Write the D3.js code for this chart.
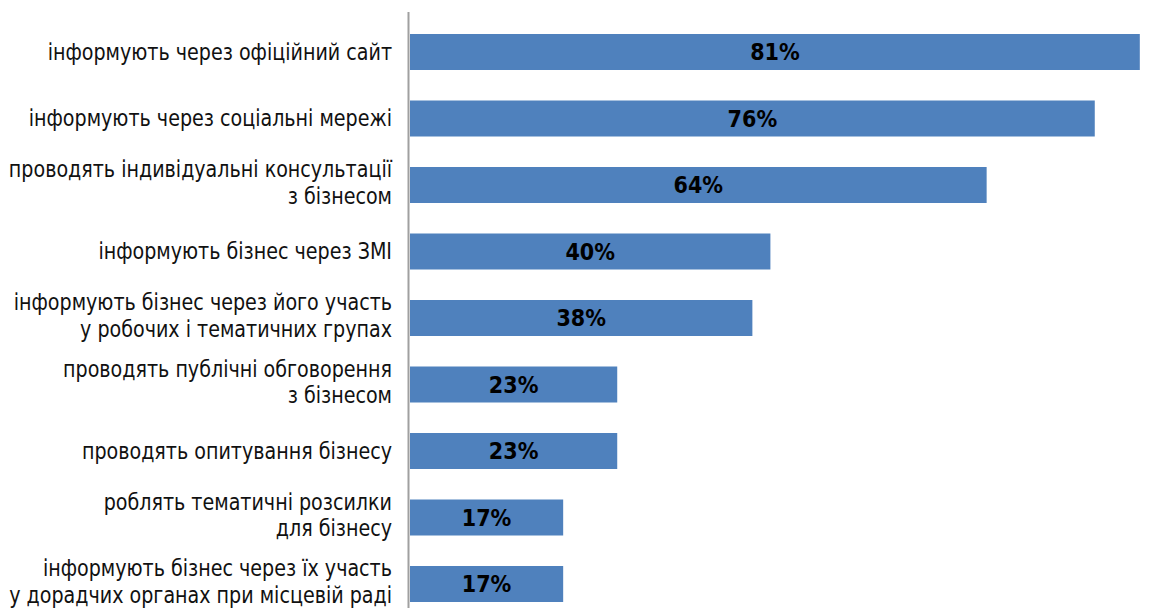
<!DOCTYPE html>
<html>
<head>
<meta charset="utf-8">
<script src="https://cdn.jsdelivr.net/npm/d3@7"></script>
<style>
  html, body { margin: 0; padding: 0; background: #fff; }
  svg { display: block; }
</style>
</head>
<body>
<svg id="chart" width="1176" height="608"></svg>
<script>
const categories = [
  ["інформують через офіційний сайт"],
  ["інформують через соціальні мережі"],
  ["проводять індивідуальні консультації", "з бізнесом"],
  ["інформують бізнес через ЗМІ"],
  ["інформують бізнес через його участь", "у робочих і тематичних групах"],
  ["проводять публічні обговорення", "з бізнесом"],
  ["проводять опитування бізнесу"],
  ["роблять тематичні розсилки", "для бізнесу"],
  ["інформують бізнес через їх участь", "у дорадчих органах при місцевій раді"]
];
const values = [81, 76, 64, 40, 38, 23, 23, 17, 17];
const valueLabels = ["81%", "76%", "64%", "40%", "38%", "23%", "23%", "17%", "17%"];

const svg = d3.select("#chart");
const labelFont = "'DejaVu Sans Condensed', 'Liberation Sans Narrow', 'Open Sans', sans-serif";

const keys = categories.map((c, i) => i);
const y = d3.scaleBand().domain(keys).range([18.75, 617.25]).paddingInner(0.4586).paddingOuter(0.2293);
const x = d3.scaleLinear().domain([0, 100]).range([410, 1311]);

svg.selectAll("rect.bar").data(values).join("rect")
  .attr("class", "bar")
  .attr("x", x(0))
  .attr("y", (d, i) => y(i))
  .attr("width", d => x(d) - x(0))
  .attr("height", y.bandwidth())
  .attr("fill", "#4F81BD");

// axis line
svg.append("line")
  .attr("x1", 408.5).attr("x2", 408.5)
  .attr("y1", 12).attr("y2", 620)
  .attr("stroke", "#A0A0A0").attr("stroke-width", 2);

// category labels
const lineH = 26.5;
const lab = svg.selectAll("text.cat").data(categories).join("text")
  .attr("class", "cat")
  .attr("text-anchor", "end")
  .attr("font-family", labelFont)
  .attr("font-size", 22.5)
  .attr("fill", "#111")
  .attr("transform", "translate(392,0) scale(0.944,1)");
lab.each(function(lines, i) {
  const cy = y(i) + y.bandwidth() / 2 - (lines.length > 1 ? 2.2 : 0);
  const startY = cy - (lines.length - 1) * lineH / 2;
  d3.select(this).selectAll("tspan").data(lines).join("tspan")
    .attr("x", 0)
    .attr("y", (d, j) => startY + j * lineH)
    .attr("dy", "0.34em")
    .text(d => d);
});

// value labels
svg.selectAll("text.val").data(values).join("text")
  .attr("class", "val")
  .attr("text-anchor", "middle")
  .attr("font-family", labelFont)
  .attr("font-weight", "bold")
  .attr("font-size", 23)
  .attr("fill", "#000")
  .attr("x", d => (x(0) + x(d)) / 2)
  .attr("y", (d, i) => y(i) + y.bandwidth() / 2)
  .attr("dy", "0.36em")
  .text((d, i) => valueLabels[i]);
</script>
</body>
</html>
